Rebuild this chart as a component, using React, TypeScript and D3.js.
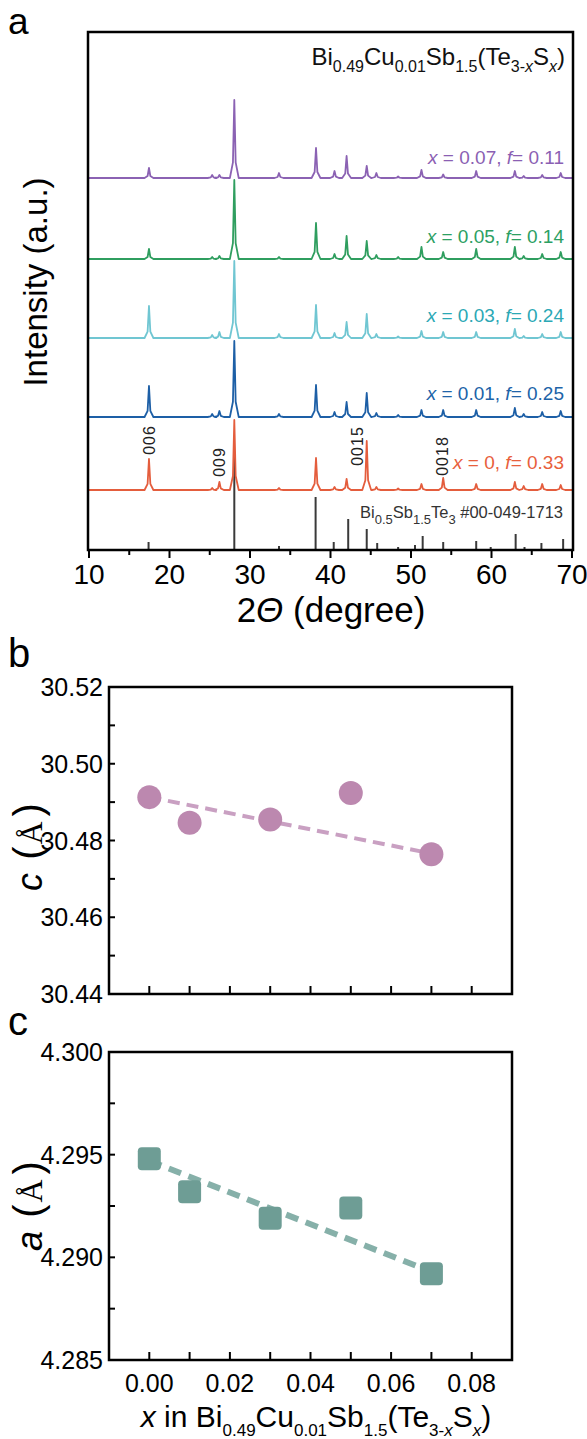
import { useEffect, useRef } from 'react'
import * as d3 from 'd3'

const FONT = "'Liberation Sans', Arial, Helvetica, sans-serif"
const SERIF = "'Liberation Serif', 'DejaVu Serif', serif"

// panel a: XRD patterns
const angleTicks = [10, 20, 30, 40, 50, 60, 70]
const angleMinorTicks = [15, 25, 35, 45, 55, 65]
const peakPositions = [17.45, 25.3, 26.2, 28.05, 33.6, 38.2, 40.5, 42.0, 44.5, 45.7, 48.4, 51.3, 54.0, 58.1, 62.9, 64.0, 66.3, 68.6]
const heightsX000 = [31, 2, 8, 70, 2, 32, 3, 11, 49, 3, 1.5, 6, 12, 6, 8, 4, 6, 5]
const heightsX001 = [31, 3, 6, 76, 3, 32, 5, 15, 24, 4, 2, 7, 7, 7, 9, 3, 5, 6]
const heightsX003 = [32, 3, 6, 77, 4, 33, 5, 16, 24, 4, 1.5, 7, 6, 6, 9, 2, 4, 6]
const heightsX005 = [10, 2, 3, 79, 2, 36, 5, 23, 18, 4, 2, 12, 7, 10, 12, 3, 5, 7]
const heightsX007 = [10, 3, 3, 78, 5, 30, 7, 22, 12, 5, 1.5, 8, 3.5, 7, 7, 2, 3, 5]
const patternHeights = [heightsX000, heightsX001, heightsX003, heightsX005, heightsX007]
const patternOffsets = [60, 133, 212, 291, 372]
const patternColors = ['#E45D3D', '#1D5FA6', '#70C6D2', '#2F9E5F', '#8B62B3']
const labelColors = ['#E8603C', '#2063A8', '#2BA8B5', '#2CA063', '#8B5FB3']
const labelX = ['0', '0.01', '0.03', '0.05', '0.07']
const labelF = ['0.33', '0.25', '0.24', '0.14', '0.11']
const labelBaselines = [469, 400, 322, 243, 164]

const refPositions = [17.4, 28.05, 33.6, 38.15, 40.4, 42.2, 44.5, 45.8, 48.4, 50.5, 51.45, 54.0, 58.1, 59.9, 63.0, 64.1, 66.2, 68.9]
const refHeights = [8, 98, 4, 53, 8, 31, 21, 7, 3, 5, 14, 8, 9, 3, 16, 3, 7, 11]

const hklLabels = ['006', '009', '0015', '0018']
const hklAngles = [17.45, 26.15, 43.4, 53.9]
const hklCenters = [440, 462, 446, 456]

// panels b and c: lattice parameters
const sulfurContent = [0, 0.01, 0.03, 0.05, 0.07]
const latticeC = [30.4913, 30.4846, 30.4855, 30.4924, 30.4764]
const latticeA = [4.2948, 4.2932, 4.2919, 4.2924, 4.2892]
const fitX = [0, 0.07]
const fitC = [30.4913, 30.4766]
const fitA = [4.2947, 4.2893]
const xTicks = [0, 0.02, 0.04, 0.06, 0.08]
const xMinorTicks = [0.01, 0.03, 0.05, 0.07]
const cTicks = [30.44, 30.46, 30.48, 30.50, 30.52]
const cMinorTicks = [30.45, 30.47, 30.49, 30.51]
const aTicks = [4.285, 4.290, 4.295, 4.300]
const aMinorTicks = [4.2875, 4.2925, 4.2975]

type Part = { t: string, sub?: boolean, it?: boolean, serif?: boolean, dx?: number, size?: number }

function addRich(sel: any, parts: Part[], size: number, subSize: number, subDy: number) {
    let shifted = false
    parts.forEach(p => {
        const ts = sel.append('tspan').text(p.t)
        let dy = 0
        if (p.sub && !shifted) { dy = subDy; shifted = true }
        else if (!p.sub && shifted) { dy = -subDy; shifted = false }
        if (dy) ts.attr('dy', dy)
        if (p.dx) ts.attr('dx', p.dx)
        ts.attr('font-size', p.size ?? (p.sub ? subSize : size))
        if (p.it) ts.attr('font-style', 'italic')
        if (p.serif) ts.attr('font-family', SERIF)
    })
}

const formulaParts: Part[] = [
    { t: 'Bi' }, { t: '0.49', sub: true }, { t: 'Cu' }, { t: '0.01', sub: true },
    { t: 'Sb' }, { t: '1.5', sub: true }, { t: '(Te' }, { t: '3-', sub: true },
    { t: 'x', sub: true, it: true }, { t: 'S' }, { t: 'x', sub: true, it: true }, { t: ')' },
]

function App() {
    const ref = useRef<SVGSVGElement>(null)

    useEffect(() => {
        const svg = d3.select(ref.current)
        svg.selectAll('*').remove()

        // ---------- panel a ----------
        const xA = d3.scaleLinear().domain([10, 70]).range([89, 572])
        const yA = d3.scaleLinear().domain([0, 518]).range([550, 32])
        const gA = svg.append('g')

        // reference sticks
        gA.selectAll('line.ref')
            .data(refPositions)
            .enter()
            .append('line')
            .attr('x1', d => xA(d))
            .attr('x2', d => xA(d))
            .attr('y1', yA(0))
            .attr('y2', (d, i) => yA(refHeights[i]))
            .style('stroke', '#3a3a3a')
            .style('stroke-width', 2)

        const line = d3.line<[number, number]>()
            .x(d => xA(d[0]))
            .y(d => yA(d[1]))

        patternHeights.forEach((heights, k) => {
            const base = patternOffsets[k]
            const pts: [number, number][] = [[10, base]]
            peakPositions.forEach((p, i) => {
                const h = heights[i]
                pts.push([p - 0.55, base], [p - 0.17, base + h * 0.2], [p, base + h], [p + 0.17, base + h * 0.2], [p + 0.55, base])
            })
            pts.push([70, base])
            gA.append('path')
                .datum(pts)
                .attr('d', line)
                .style('fill', 'none')
                .style('stroke', patternColors[k])
                .style('stroke-width', 1.8)
                .style('stroke-linejoin', 'round')

            const t = gA.append('text')
                .attr('x', 564)
                .attr('y', labelBaselines[k])
                .attr('text-anchor', 'end')
                .style('fill', labelColors[k])
                .style('font-family', FONT)
            addRich(t, [
                { t: 'x', it: true }, { t: ' = ' + labelX[k] + ', ' }, { t: 'f', it: true }, { t: '= ' + labelF[k] },
            ], 19, 19, 0)
        })

        // hkl labels
        hklLabels.forEach((lab, i) => {
            gA.append('text')
                .attr('transform', `translate(${xA(hklAngles[i])}, ${hklCenters[i]}) rotate(-90)`)
                .attr('text-anchor', 'middle')
                .attr('dy', '0.35em')
                .style('font-family', FONT)
                .style('font-size', '16px')
                .style('letter-spacing', '1px')
                .style('fill', '#222')
                .text(lab)
        })

        const refLabel = gA.append('text')
            .attr('x', 360)
            .attr('y', 518)
            .style('font-family', FONT)
            .style('fill', '#333')
        addRich(refLabel, [
            { t: 'Bi' }, { t: '0.5', sub: true }, { t: 'Sb' }, { t: '1.5', sub: true }, { t: 'Te' }, { t: '3', sub: true }, { t: ' #00-049-1713' },
        ], 16.5, 13, 6)

        const title = gA.append('text')
            .attr('x', 565)
            .attr('y', 65)
            .attr('text-anchor', 'end')
            .style('font-family', FONT)
            .style('fill', '#111')
        addRich(title, formulaParts, 24, 16, 7)

        // frame and ticks
        gA.append('rect')
            .attr('x', 88).attr('y', 32).attr('width', 485).attr('height', 518)
            .style('fill', 'none').style('stroke', '#000').style('stroke-width', 2.5)
        gA.selectAll('line.maj')
            .data(angleTicks)
            .enter()
            .append('line')
            .attr('x1', d => xA(d)).attr('x2', d => xA(d))
            .attr('y1', 550).attr('y2', 558)
            .style('stroke', '#000').style('stroke-width', 2)
        gA.selectAll('line.min')
            .data(angleMinorTicks)
            .enter()
            .append('line')
            .attr('x1', d => xA(d)).attr('x2', d => xA(d))
            .attr('y1', 550).attr('y2', 555)
            .style('stroke', '#000').style('stroke-width', 2)
        gA.selectAll('text.tick')
            .data(angleTicks)
            .enter()
            .append('text')
            .attr('x', d => xA(d))
            .attr('y', 584)
            .attr('text-anchor', 'middle')
            .style('font-family', FONT)
            .style('font-size', '28px')
            .text(d => d)

        const xTitle = gA.append('text')
            .attr('x', 331).attr('y', 622)
            .attr('text-anchor', 'middle')
            .style('font-family', FONT)
        addRich(xTitle, [{ t: '2' }, { t: 'Θ', it: true }, { t: ' (degree)' }], 35, 35, 0)

        gA.append('text')
            .attr('transform', 'translate(47, 282) rotate(-90)')
            .attr('text-anchor', 'middle')
            .style('font-family', FONT)
            .style('font-size', '33px')
            .text('Intensity (a.u.)')

        // ---------- panels b, c ----------
        const xB = d3.scaleLinear().domain([-0.01, 0.09]).range([109, 512])

        function latticePanel(top: number, bottom: number, domain: [number, number], majors: number[], minors: number[], fmt: string) {
            const y = d3.scaleLinear().domain(domain).range([bottom, top])
            const g = svg.append('g')
            g.append('rect')
                .attr('x', 109).attr('y', top).attr('width', 403).attr('height', bottom - top)
                .style('fill', 'none').style('stroke', '#000').style('stroke-width', 2.5)
            g.selectAll('line.xt')
                .data(xTicks.concat(xMinorTicks))
                .enter()
                .append('line')
                .attr('x1', d => xB(d)).attr('x2', d => xB(d))
                .attr('y1', bottom).attr('y2', bottom - 8)
                .style('stroke', '#000').style('stroke-width', 2)
            g.selectAll('line.yt')
                .data(majors.concat(minors))
                .enter()
                .append('line')
                .attr('x1', 109).attr('x2', 115)
                .attr('y1', d => y(d)).attr('y2', d => y(d))
                .style('stroke', '#000').style('stroke-width', 2)
            g.selectAll('text.yl')
                .data(majors)
                .enter()
                .append('text')
                .attr('x', 103)
                .attr('y', d => y(d))
                .attr('dy', '0.36em')
                .attr('text-anchor', 'end')
                .style('font-family', FONT)
                .style('font-size', '25px')
                .text(d => d3.format(fmt)(d))
            return { g, y }
        }

        // panel b
        const b = latticePanel(687, 994, [30.44, 30.52], cTicks, cMinorTicks, '.2f')
        b.g.append('path')
            .datum(fitX.map((x, i) => [x, fitC[i]] as [number, number]))
            .attr('d', d3.line<[number, number]>().x(d => xB(d[0])).y(d => b.y(d[1])))
            .style('stroke', '#C9A0C2').style('stroke-width', 4).style('stroke-dasharray', '12,7').style('fill', 'none')
        b.g.selectAll('circle')
            .data(sulfurContent)
            .enter()
            .append('circle')
            .attr('cx', d => xB(d))
            .attr('cy', (d, i) => b.y(latticeC[i]))
            .attr('r', 12)
            .style('fill', '#BC88AF')

        // panel c
        const c = latticePanel(1052, 1360, [4.285, 4.300], aTicks, aMinorTicks, '.3f')
        c.g.append('path')
            .datum(fitX.map((x, i) => [x, fitA[i]] as [number, number]))
            .attr('d', d3.line<[number, number]>().x(d => xB(d[0])).y(d => c.y(d[1])))
            .style('stroke', '#86B0A9').style('stroke-width', 6).style('stroke-dasharray', '13,8').style('fill', 'none')
        c.g.selectAll('rect.m')
            .data(sulfurContent)
            .enter()
            .append('rect')
            .attr('x', d => xB(d) - 11.5)
            .attr('y', (d, i) => c.y(latticeA[i]) - 11.5)
            .attr('width', 23).attr('height', 23).attr('rx', 4)
            .style('fill', '#6E9D95')
        c.g.selectAll('text.xl')
            .data(xTicks)
            .enter()
            .append('text')
            .attr('x', d => xB(d))
            .attr('y', 1392)
            .attr('text-anchor', 'middle')
            .style('font-family', FONT)
            .style('font-size', '25px')
            .text(d => d3.format('.2f')(d))

        const cTitle = svg.append('text')
            .attr('x', 316).attr('y', 1427)
            .attr('text-anchor', 'middle')
            .style('font-family', FONT)
        addRich(cTitle, [{ t: 'x', it: true }, { t: ' in ' } as Part].concat(formulaParts), 30, 17, 9)

        const yLabel = (cx: number, letter: string) => {
            const t = svg.append('text')
                .attr('transform', `translate(42, ${cx}) rotate(-90)`)
                .attr('text-anchor', 'middle')
                .style('font-family', FONT)
            addRich(t, [
                { t: letter, it: true }, { t: ' (', dx: 2, size: 40 }, { t: 'Å', serif: true, size: 32, dx: 2 }, { t: ')', dx: 5, size: 40 },
            ], 36, 36, 0)
        }
        yLabel(847, 'c')
        yLabel(1206, 'a')

        // panel letters
        ;[['a', 34, 37], ['b', 667, 40], ['c', 1035, 40]].forEach(([l, y, s]) => {
            svg.append('text')
                .attr('x', 8).attr('y', y as number)
                .style('font-family', FONT)
                .style('font-size', `${s}px`)
                .text(l as string)
        })
    })

    return (
        <svg ref={ref} width={587} height={1439}
            style={{ position: 'absolute', left: 0, top: 0, background: '#fff', display: 'block' }} />
    )
}

export default App
